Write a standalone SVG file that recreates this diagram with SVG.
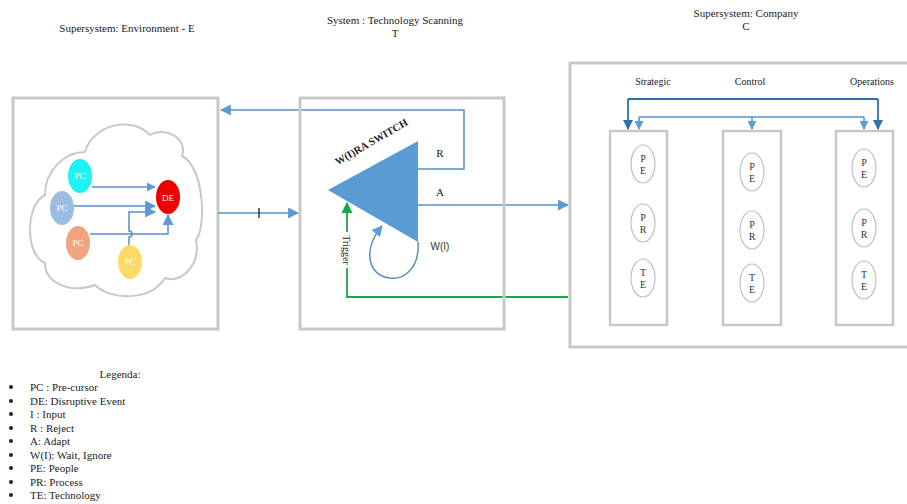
<svg xmlns="http://www.w3.org/2000/svg" width="907" height="504" viewBox="0 0 907 504">
<style>
.t{font-family:"Liberation Serif","Times New Roman",serif;fill:#222}
.box{fill:#fff;stroke:#c8c8c8;stroke-width:3}
.col{fill:#fff;stroke:#c8c8c8;stroke-width:2.5}
.ell{fill:#fff;stroke:#c0c0c0;stroke-width:1.2}
.ln{fill:none;stroke:#5b8fc4;stroke-width:1.5}
.dk{fill:none;stroke:#2e6fae;stroke-width:1.8}
.gr{fill:none;stroke:#1aa84a;stroke-width:1.8}
.pc{font-family:"Liberation Serif",serif;font-size:9px;fill:#fff}
.el{font-family:"Liberation Serif",serif;font-size:10px;fill:#333}
</style>
<defs>
<marker id="ab" viewBox="0 0 10 10" refX="9" refY="5" markerWidth="9" markerHeight="9" markerUnits="userSpaceOnUse" orient="auto"><path d="M0,0 L10,5 L0,10 Z" fill="#5b9bd5"/></marker>
<marker id="ab2" viewBox="0 0 10 10" refX="9" refY="5" markerWidth="11" markerHeight="11" markerUnits="userSpaceOnUse" orient="auto"><path d="M0,0 L10,5 L0,10 Z" fill="#5b9bd5"/></marker>
<marker id="ad" viewBox="0 0 10 10" refX="9" refY="5" markerWidth="10" markerHeight="10" markerUnits="userSpaceOnUse" orient="auto"><path d="M0,0 L10,5 L0,10 Z" fill="#2e6fae"/></marker>
<marker id="ag" viewBox="0 0 10 10" refX="9" refY="5" markerWidth="11" markerHeight="11" markerUnits="userSpaceOnUse" orient="auto"><path d="M0,0 L10,5 L0,10 Z" fill="#1aa84a"/></marker>
</defs>
<rect width="907" height="504" fill="#fff"/>

<g id="titles">
<text class="t" x="127" y="32" font-size="11" text-anchor="middle">Supersystem: Environment - E</text>
<text class="t" x="395" y="24" font-size="11" text-anchor="middle">System : Technology Scanning</text>
<text class="t" x="395" y="37" font-size="11" text-anchor="middle">T</text>
<text class="t" x="746" y="17" font-size="11" text-anchor="middle">Supersystem: Company</text>
<text class="t" x="746" y="30" font-size="11" text-anchor="middle">C</text>
</g>

<g id="environment">
<rect class="box" x="13" y="98" width="205" height="231"/>
<path d="M45 263 C25 255,25 205,45 195 C45 170,65 152,85 152 C92 125,132 115,150 135 C165 126,188 138,182 156 C205 168,206 228,196 240 C201 266,180 284,165 278 C150 302,110 300,95 285 C70 294,45 283,45 263 Z" fill="#fff" stroke="#c8c8c8" stroke-width="2"/>
</g>

<g id="connectors">
<!-- inside cloud -->
<path class="ln" d="M92 187 H155" marker-end="url(#ab)"/>
<path class="ln" d="M74 206 H155" marker-end="url(#ab2)"/>
<path class="ln" d="M90 234 H168 V215" marker-end="url(#ab2)"/>
<path class="ln" d="M129 245 V237 A3 3 0 0 0 129 231 V212 H155" marker-end="url(#ab2)"/>
<!-- input -->
<path class="ln" d="M218 213 H298" marker-end="url(#ab2)"/>
<line x1="259" y1="208" x2="259" y2="218" stroke="#333" stroke-width="1.5"/>
<!-- reject -->
<path class="ln" d="M418 169 H464 V110 H221" marker-end="url(#ab2)"/>
<!-- adapt -->
<path class="ln" d="M418 205 H568" marker-end="url(#ab2)"/>
<!-- wait loop -->
<path class="ln" d="M418 242 C420 270,402 280,390 278 C368 276,362 250,382 226" marker-end="url(#ab2)"/>
<!-- trigger -->
<path class="gr" d="M568 297 H347 V203" marker-end="url(#ag)"/>
<!-- company top -->
<path class="dk" d="M628 99 H878"/>
<path class="dk" d="M628 99 V129" marker-end="url(#ad)"/>
<path class="dk" d="M878 99 V129" marker-end="url(#ad)"/>
<path class="ln" d="M639 117 H864"/>
<path class="ln" d="M639 117 V129" marker-end="url(#ab)"/>
<path class="ln" d="M752 117 V129" marker-end="url(#ab)"/>
<path class="ln" d="M864 117 V129" marker-end="url(#ab)"/>
</g>

<g id="precursors">
<ellipse cx="80" cy="176" rx="12" ry="17" fill="#1ef2f2"/>
<text class="pc" x="80" y="179" text-anchor="middle">PC</text>
<ellipse cx="62" cy="208" rx="12" ry="17" fill="#9dbde0"/>
<text class="pc" x="62" y="211" text-anchor="middle">PC</text>
<ellipse cx="78" cy="243" rx="12" ry="17" fill="#f0a47e"/>
<text class="pc" x="78" y="246" text-anchor="middle">PC</text>
<ellipse cx="130" cy="262" rx="12" ry="17" fill="#ffd966"/>
<text class="pc" x="130" y="265" text-anchor="middle">PC</text>
<ellipse cx="168" cy="197" rx="12" ry="17" fill="#ee0000"/>
<text class="pc" x="168" y="201" text-anchor="middle" font-size="10">DE</text>
</g>

<g id="system">
<rect class="box" x="300" y="98" width="204" height="231" fill="none" style="fill:none"/>
<polygon points="328,190 418,141 418,242" fill="#5b9bd5"/>
<text class="t" x="373" y="145" font-size="10.5" font-weight="bold" text-anchor="middle" transform="rotate(-30 373 145)">W(I)RA SWITCH</text>
<text class="t" x="440" y="157" font-size="11" text-anchor="middle">R</text>
<text class="t" x="440" y="196" font-size="11" text-anchor="middle">A</text>
<text x="440" y="250" font-family="Liberation Sans,Arial,sans-serif" font-size="10" fill="#333" text-anchor="middle">W(I)</text>
<rect x="341" y="232" width="12" height="36" fill="#fff"/>
<text class="t" x="346" y="250" font-size="10" text-anchor="middle" transform="rotate(90 346 250)" dy="3">Trigger</text>
</g>

<g id="company">
<rect class="box" x="570" y="63" width="345" height="284" style="fill:none"/>
<text class="t" x="653" y="85" font-size="10" text-anchor="middle">Strategic</text>
<text class="t" x="750" y="85" font-size="10" text-anchor="middle">Control</text>
<text class="t" x="872" y="85" font-size="10" text-anchor="middle">Operations</text>
</g>

<g id="strategic">
<rect class="col" x="610" y="131" width="57" height="194"/>
<ellipse class="ell" cx="643" cy="164" rx="12" ry="19"/>
<text class="el" x="643" y="162" text-anchor="middle">P</text><text class="el" x="643" y="174" text-anchor="middle">E</text>
<ellipse class="ell" cx="643" cy="223" rx="12" ry="19"/>
<text class="el" x="643" y="221" text-anchor="middle">P</text><text class="el" x="643" y="233" text-anchor="middle">R</text>
<ellipse class="ell" cx="643" cy="278" rx="12" ry="19"/>
<text class="el" x="643" y="276" text-anchor="middle">T</text><text class="el" x="643" y="288" text-anchor="middle">E</text>
</g>

<g id="control">
<rect class="col" x="723" y="131" width="58" height="194"/>
<ellipse class="ell" cx="752" cy="172" rx="12" ry="19"/>
<text class="el" x="752" y="170" text-anchor="middle">P</text><text class="el" x="752" y="182" text-anchor="middle">E</text>
<ellipse class="ell" cx="752" cy="230" rx="12" ry="19"/>
<text class="el" x="752" y="228" text-anchor="middle">P</text><text class="el" x="752" y="240" text-anchor="middle">R</text>
<ellipse class="ell" cx="752" cy="283" rx="12" ry="19"/>
<text class="el" x="752" y="281" text-anchor="middle">T</text><text class="el" x="752" y="293" text-anchor="middle">E</text>
</g>

<g id="operations">
<rect class="col" x="836" y="131" width="57" height="194"/>
<ellipse class="ell" cx="864" cy="168" rx="12" ry="19"/>
<text class="el" x="864" y="166" text-anchor="middle">P</text><text class="el" x="864" y="178" text-anchor="middle">E</text>
<ellipse class="ell" cx="864" cy="228" rx="12" ry="19"/>
<text class="el" x="864" y="226" text-anchor="middle">P</text><text class="el" x="864" y="238" text-anchor="middle">R</text>
<ellipse class="ell" cx="864" cy="280" rx="12" ry="19"/>
<text class="el" x="864" y="278" text-anchor="middle">T</text><text class="el" x="864" y="290" text-anchor="middle">E</text>
</g>

<g id="legend" class="t" font-size="11">
<text x="120" y="378" text-anchor="middle">Legenda:</text>
<g fill="#222">
<circle cx="11" cy="387" r="2"/><circle cx="11" cy="401" r="2"/><circle cx="11" cy="414" r="2"/>
<circle cx="11" cy="428" r="2"/><circle cx="11" cy="441" r="2"/><circle cx="11" cy="455" r="2"/>
<circle cx="11" cy="468" r="2"/><circle cx="11" cy="482" r="2"/><circle cx="11" cy="495" r="2"/>
</g>
<text x="30" y="391">PC : Pre-cursor</text>
<text x="30" y="405">DE: Disruptive Event</text>
<text x="30" y="418">I : Input</text>
<text x="30" y="432">R : Reject</text>
<text x="30" y="445">A: Adapt</text>
<text x="30" y="459">W(I): Wait, Ignore</text>
<text x="30" y="472">PE: People</text>
<text x="30" y="486">PR: Process</text>
<text x="30" y="499">TE: Technology</text>
</g>
</svg>
